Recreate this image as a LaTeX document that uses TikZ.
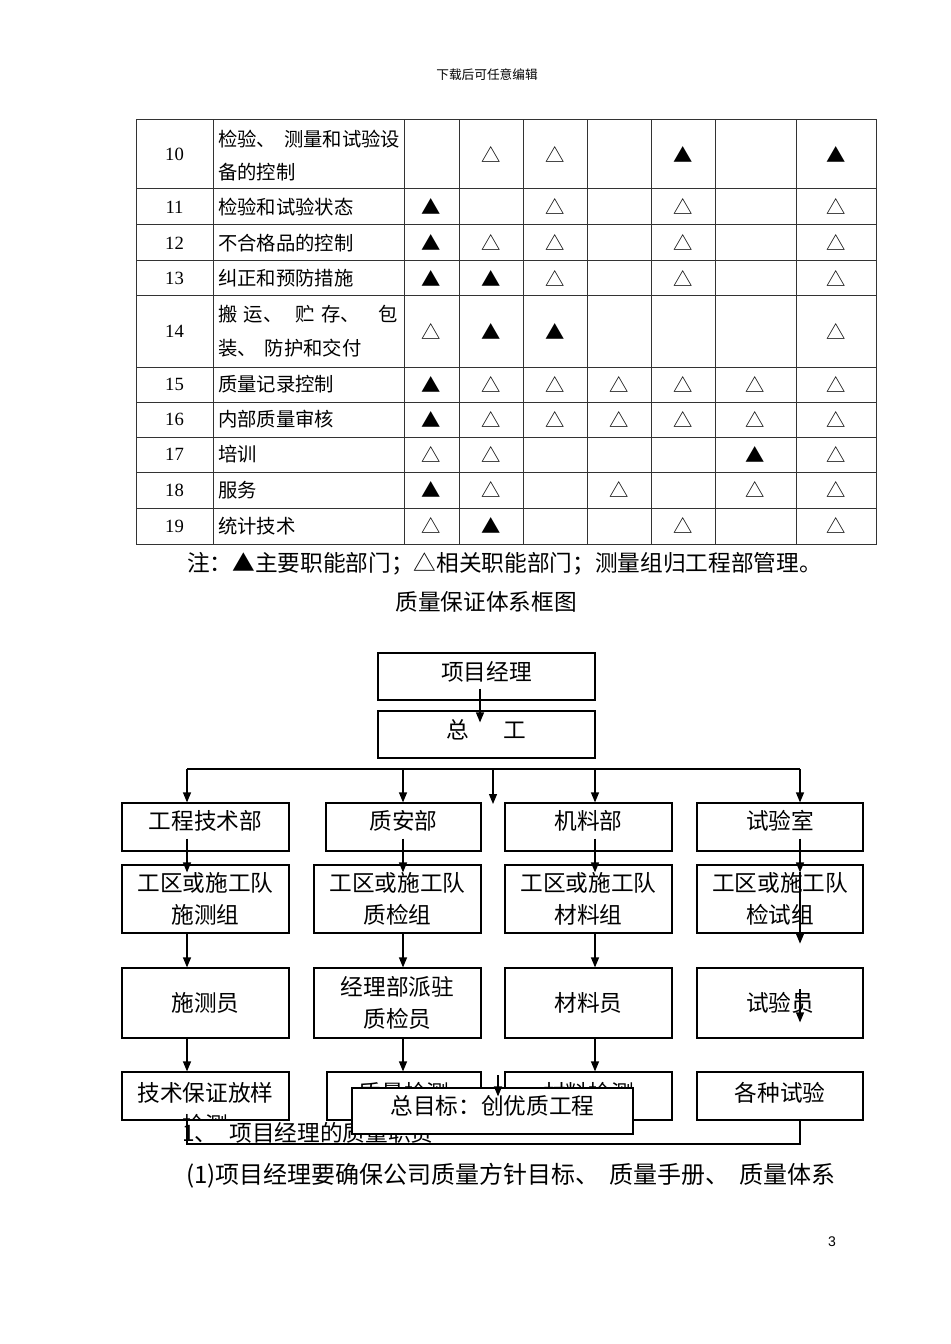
\documentclass[tikz,border=0pt]{standalone}
\usepackage{fontspec}
\setmainfont{Noto Sans CJK SC}
\newfontfamily\numfont{Liberation Serif}
\newfontfamily\latinsans{Liberation Sans}
\usetikzlibrary{arrows.meta,calc}

\tikzset{
  box/.style={draw, line width=0.9pt, inner sep=0pt, align=center, font=\fontsize{17}{24}\selectfont},
  arr/.style={line width=0.9pt, -{Triangle[length=7.5pt,width=6pt]}},
  ln/.style={line width=0.9pt},
  tline/.style={line width=0.75pt, draw=black!80, line cap=rect},
  sym/.style={inner sep=0pt, font=\fontsize{14.5}{16}\selectfont},
  num/.style={inner sep=0pt, font=\numfont\fontsize{14}{16}\selectfont},
  ttext/.style={inner sep=0pt, anchor=west, font=\fontsize{14.5}{16}\selectfont},
  big/.style={inner sep=0pt, font=\fontsize{17}{24}\selectfont},
}

\newcommand\bx[6]{\node[box, minimum width={(#4-#2)*0.75pt}, minimum height={(#5-#3)*0.75pt}] (#1) at ({(#2+#4)/2},{(#3+#5)/2}) {#6};}
\newcommand\up[2]{\raisebox{#1}[\height][\depth]{#2}}

\newcommand\trow[9]{%
  \node[num] (r#1n) at (174.5,#2) {#1};
  \node[sym] (r#1a) at (431.5,#2) {#3};
  \node[sym] (r#1b) at (491,#2) {#4};
  \node[sym] (r#1c) at (555,#2) {#5};
  \node[sym] (r#1d) at (619,#2) {#6};
  \node[sym] (r#1e) at (683,#2) {#7};
  \node[sym] (r#1f) at (755.5,#2) {#8};
  \node[sym] (r#1g) at (836,#2) {#9};
}

\begin{document}
\begin{tikzpicture}[x=0.75pt,y=-0.75pt]
\path[use as bounding box] (0,0) rectangle (950,1344);
\fill[white] (0,0) rectangle (950,1344);

% header
\node[inner sep=0pt, font=\fontsize{9.5}{11}\selectfont] (hdr) at (487,75) {下载后可任意编辑};

% table grid
\foreach \x in {136,213,404,459,523,587,651,715,796,876}
  \draw[tline] (\x,120) -- (\x,544);
\foreach \y in {120,189,225,261,296,367,402,437,472,508,544}
  \draw[tline] (136,\y) -- (876,\y);

% table rows
\trow{10}{154.5}{}{△}{△}{}{▲}{}{▲}
\trow{11}{207}{▲}{}{△}{}{△}{}{△}
\trow{12}{243}{▲}{△}{△}{}{△}{}{△}
\trow{13}{278.5}{▲}{▲}{△}{}{△}{}{△}
\trow{14}{331.5}{△}{▲}{▲}{}{}{}{△}
\trow{15}{384.5}{▲}{△}{△}{△}{△}{△}{△}
\trow{16}{419.5}{▲}{△}{△}{△}{△}{△}{△}
\trow{17}{454.5}{△}{△}{}{}{}{▲}{△}
\trow{18}{490}{▲}{△}{}{△}{}{△}{△}
\trow{19}{526}{△}{▲}{}{}{△}{}{△}

\node[ttext] (l10a) at (218,139) {检验、\hspace{6pt}测量和试验设};
\node[ttext] (l10b) at (218,172) {备的控制};
\node[ttext] (l11) at (218,207) {检验和试验状态};
\node[ttext] (l12) at (218,243) {不合格品的控制};
\node[ttext] (l13) at (218,278.5) {纠正和预防措施};
\node[ttext] (l14a) at (218,314) {\makebox[135pt][s]{搬\hfill 运、\hfill\hfill 贮\hfill 存、\hfill\hfill\hfill 包}};
\node[ttext] (l14b) at (218,348) {装、\hspace{6pt}防护和交付};
\node[ttext] (l15) at (218,384.5) {质量记录控制};
\node[ttext] (l16) at (218,419.5) {内部质量审核};
\node[ttext] (l17) at (218,454.5) {培训};
\node[ttext] (l18) at (218,490) {服务};
\node[ttext] (l19) at (218,526) {统计技术};

% note and title
\node[big, anchor=west] (note) at (187,564) {注：▲主要职能部门；△相关职能部门；测量组归工程部管理。};
\node[big] (title) at (486,602) {质量保证体系框图};

% flowchart
\bx{pm}{378}{653}{595}{700}{\up{3.5pt}{项目经理}}
\bx{zg}{378}{711}{595}{758}{\up{3.5pt}{总\hspace{25.5pt}工}}

\coordinate (c0) at (480,0);
\coordinate (c1) at (187,0);
\coordinate (c2) at (403,0);
\coordinate (cm) at (493,0);
\coordinate (c3) at (595,0);
\coordinate (c4) at (800,0);
\coordinate (c5) at (498,0);

\draw[arr] ($(c0 |- pm.south)+(0,-12)$) -- ($(c0 |- zg.north)+(0,12)$);

\bx{d1}{122}{803}{289}{851}{\up{4.5pt}{工程技术部}}
\bx{d2}{326}{803}{481}{851}{\up{4.5pt}{质安部}}
\bx{d3}{505}{803}{672}{851}{\up{4.5pt}{机料部}}
\bx{d4}{697}{803}{863}{851}{\up{4.5pt}{试验室}}

\bx{g1}{122}{865}{289}{933}{工区或施工队\\施测组}
\bx{g2}{314}{865}{481}{933}{工区或施工队\\质检组}
\bx{g3}{505}{865}{672}{933}{工区或施工队\\材料组}
\bx{g4}{697}{865}{863}{933}{工区或施工队\\检试组}

\bx{p1}{122}{968}{289}{1038}{施测员}
\bx{p2}{314}{968}{481}{1038}{经理部派驻\\质检员}
\bx{p3}{505}{968}{672}{1038}{材料员}
\bx{p4}{697}{968}{863}{1038}{试验员}

\bx{t1}{122}{1072}{289}{1120}{\up{2.5pt}{技术保证放样}}
\bx{t2}{327}{1072}{481}{1120}{\up{2.5pt}{质量检测}}
\bx{t3}{505}{1072}{672}{1120}{\up{2.5pt}{材料检测}}
\bx{t4}{697}{1072}{863}{1120}{\up{2.5pt}{各种试验}}

\begin{scope}
  \clip (t1.south west) rectangle (t1.north east);
  \node[big] (t1b) at ($(t1.center)+(0,29)$) {检测};
\end{scope}

% bus
\coordinate (busL) at (187,769);
\coordinate (busR) at (800,769);
\coordinate (mid) at (493,804);
\draw[ln] (busL) -- (busR);
\draw[arr] (c1 |- busL) -- (c1 |- d1.north);
\draw[arr] (c2 |- busL) -- (c2 |- d2.north);
\draw[arr] (cm |- busL) -- (mid);
\draw[arr] (c3 |- busL) -- (c3 |- d3.north);
\draw[arr] (c4 |- busL) -- (c4 |- d4.north);

% row 1 -> row 2
\draw[arr] ($(c1 |- d1.south)+(0,-13)$) -- ($(c1 |- g1.north)+(0,8)$);
\draw[arr] ($(c2 |- d2.south)+(0,-13)$) -- ($(c2 |- g2.north)+(0,8)$);
\draw[arr] ($(c3 |- d3.south)+(0,-13)$) -- ($(c3 |- g3.north)+(0,8)$);
\draw[arr] ($(c4 |- d4.south)+(0,-13)$) -- ($(c4 |- g4.north)+(0,8)$);
\draw[arr] ($(c4 |- g4.north)+(0,8)$) -- ($(c4 |- g4.south)+(0,10)$);

% row 2 -> row 3
\draw[arr] (c1 |- g1.south) -- (c1 |- p1.north);
\draw[arr] (c2 |- g2.south) -- (c2 |- p2.north);
\draw[arr] (c3 |- g3.south) -- (c3 |- p3.north);
\draw[arr] ($(c4 |- p4.north)+(0,22)$) -- ($(c4 |- p4.north)+(0,55)$);

% row 3 -> row 4
\draw[arr] (c1 |- p1.south) -- (c1 |- t1.north);
\draw[arr] (c2 |- p2.south) -- (c2 |- t2.north);
\draw[arr] (c3 |- p3.south) -- (c3 |- t3.north);

% bracket
\coordinate (brL) at (187,1144);
\coordinate (brR) at (800,1144);
\draw[ln] (c1 |- t1.south) -- (brL) -- (brR) -- (c4 |- t4.south);

% section heading (partly covered)
\node[big, anchor=west] (sec1) at (182,1133) {1、\hspace{9pt}项目经理的质量职责};

% goal box on top
\node[box, fill=white, minimum width={(633-352)*0.75pt}, minimum height={(1134-1088)*0.75pt}] (goal) at ({(352+633)/2},{(1088+1134)/2}) {\up{4pt}{总目标：创优质工程}};
\draw[arr] ($(c5 |- goal.north)+(0,-12)$) -- ($(c5 |- goal.north)+(0,9)$);

% paragraph
\node[anchor=west, inner sep=0pt, font=\fontsize{18}{20}\selectfont] (para) at (186,1176) {\makebox[486.75pt][s]{(1)项目经理要确保公司质量方针目标、 质量手册、 质量体系}};

% page number
\node[inner sep=0pt, font=\latinsans\fontsize{10.5}{12}\selectfont] (pg) at (832,1242) {3};
\end{tikzpicture}
\end{document}
